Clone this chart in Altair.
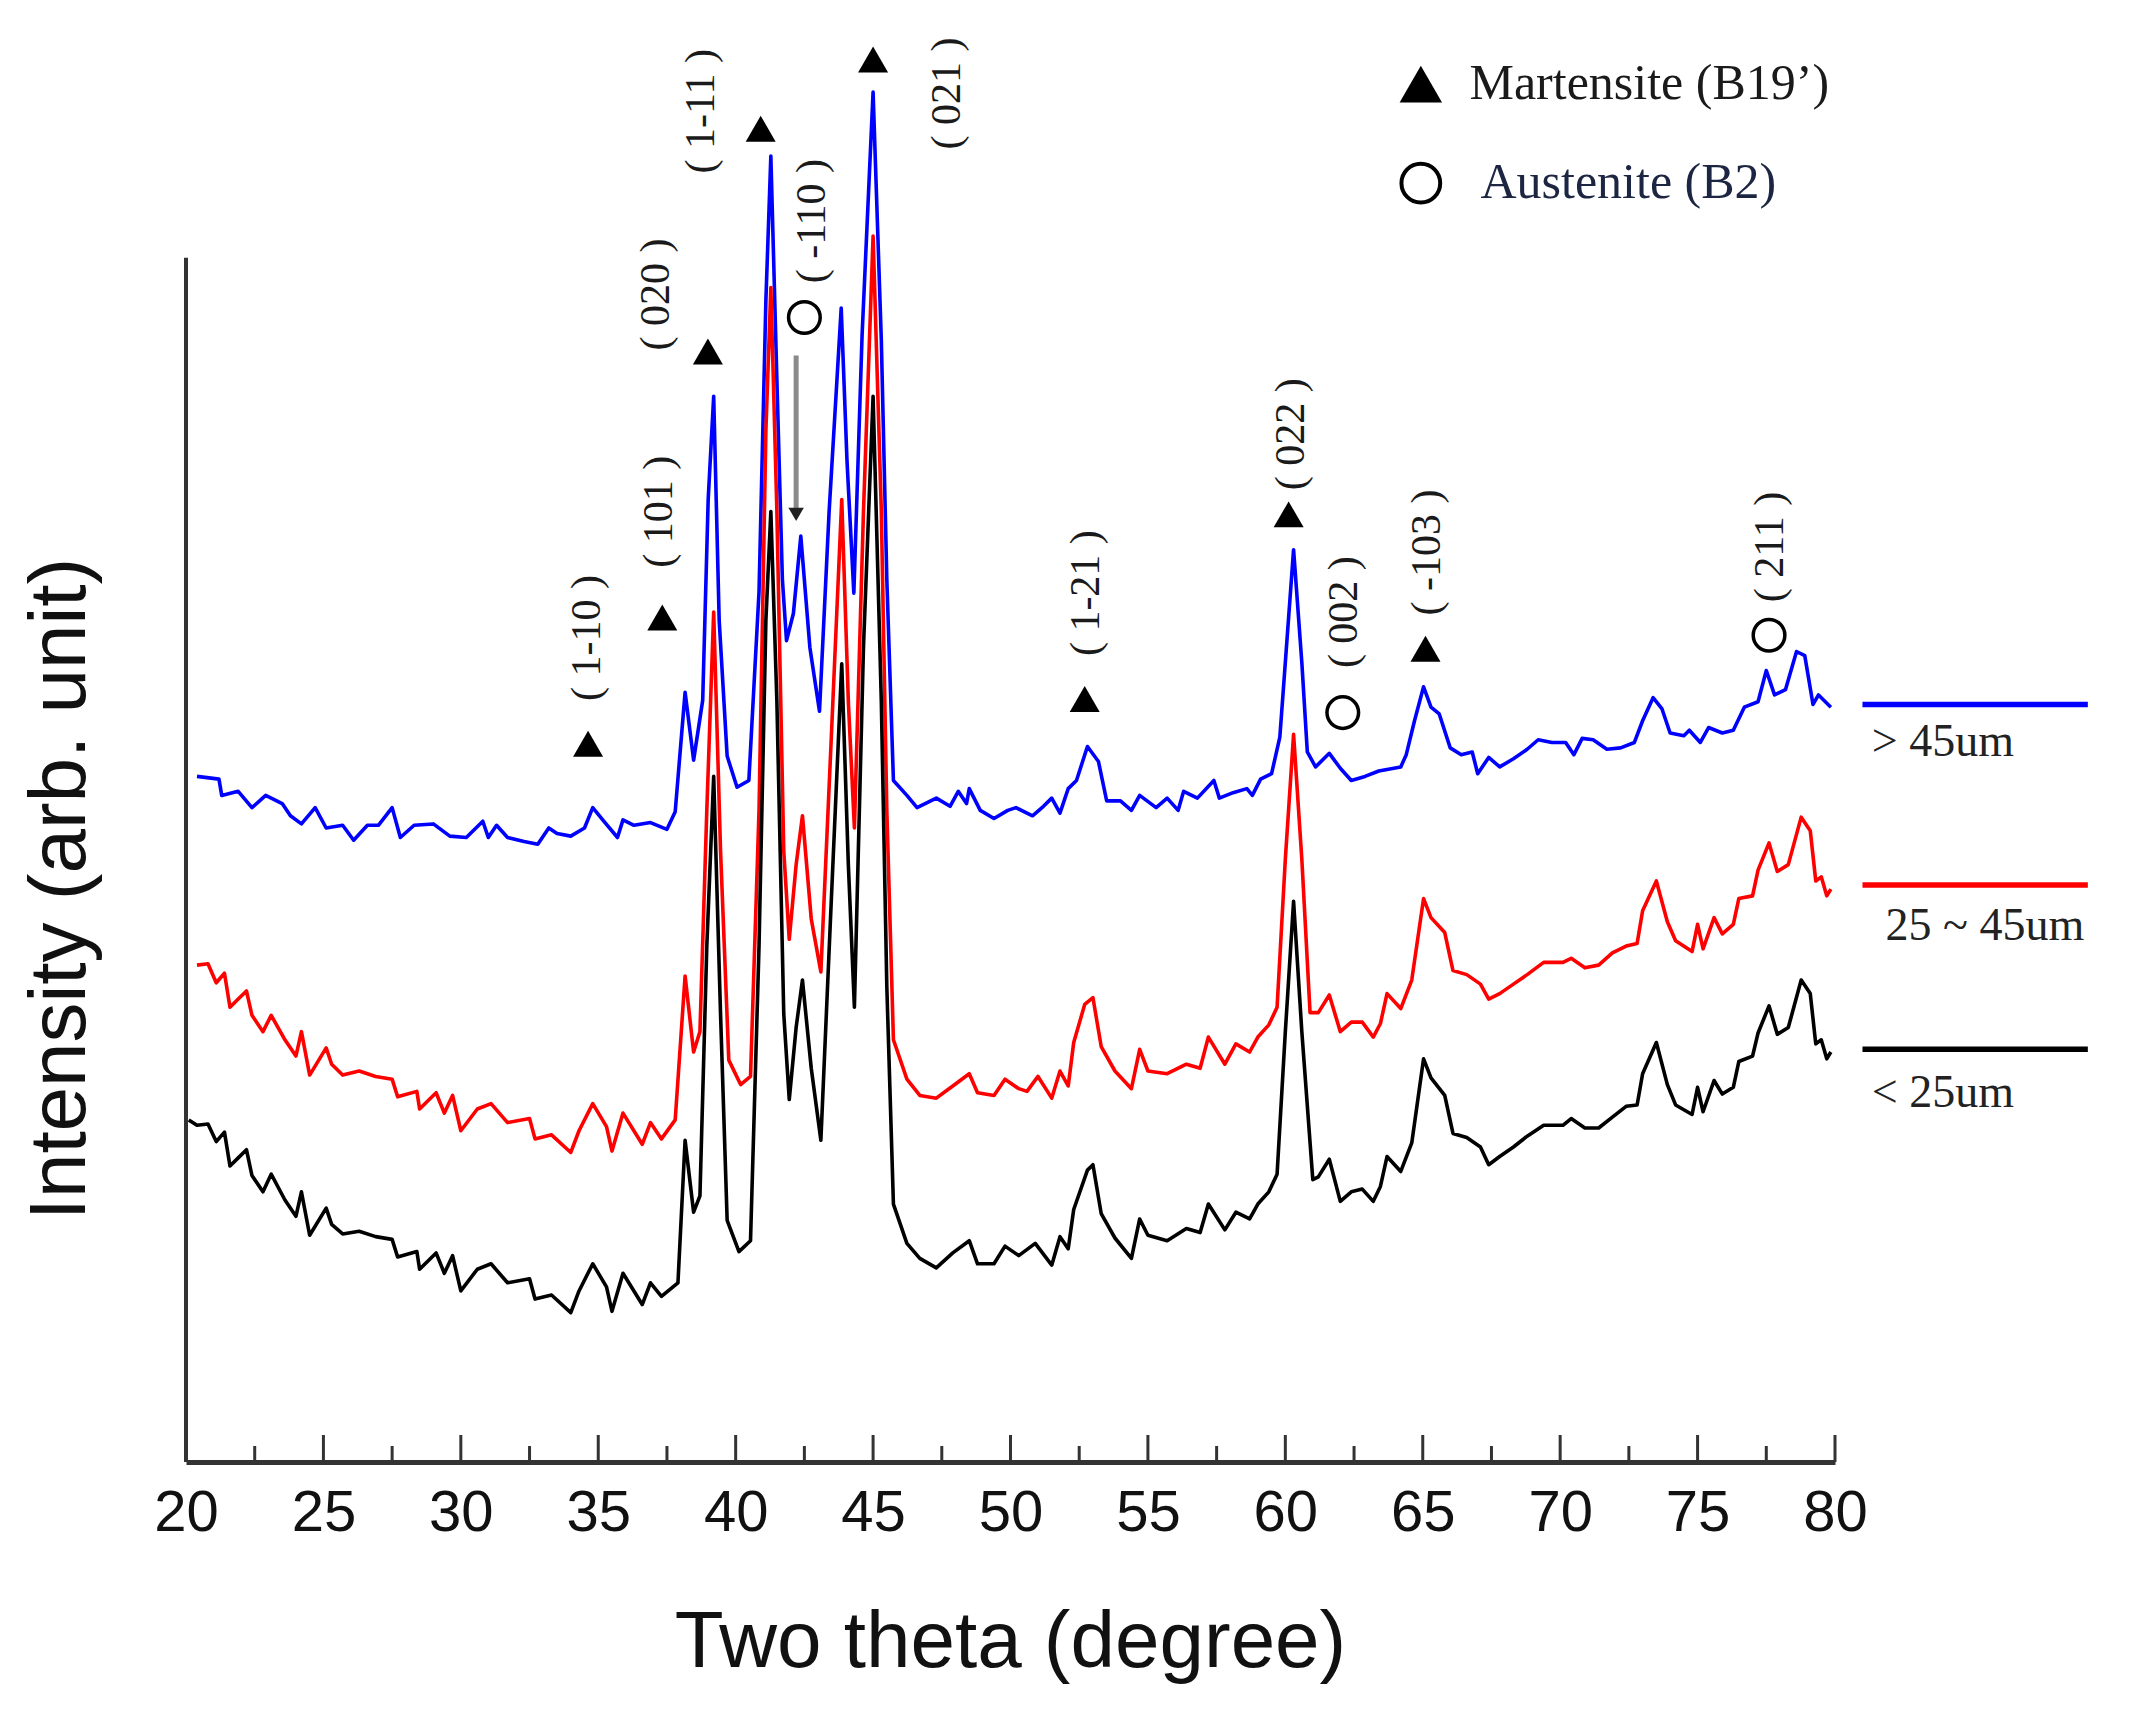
import altair as alt
import pandas as pd

# ---------------- data ----------------
# blue trace  (> 45um)
blue_x = [20.4, 21.2, 21.3, 21.9, 22.4, 22.9, 23.5, 23.8, 24.2, 24.7, 25.1, 25.7, 26.1, 26.6, 27.0, 27.5, 27.8, 28.3,
          29.0, 29.6, 30.2, 30.8, 31.0, 31.3, 31.7, 32.3, 32.8, 33.2, 33.5, 34.0, 34.5, 34.8, 35.2, 35.7, 35.9, 36.3,
          36.9, 37.5, 37.8, 38.16, 38.47, 38.8, 39.0, 39.2, 39.4, 39.69, 40.05, 40.48, 40.85, 41.1, 41.28, 41.5, 41.7,
          41.85, 42.1, 42.37, 42.7, 43.05, 43.4, 43.84, 44.05, 44.3, 44.6, 45.0, 45.3, 45.5, 45.74, 46.23, 46.6, 47.3,
          47.8, 48.1, 48.4, 48.5, 48.9, 49.4, 49.9, 50.2, 50.8, 51.2, 51.5, 51.8, 52.1, 52.4, 52.8, 53.2, 53.5, 54.0,
          54.4, 54.7, 55.3, 55.7, 56.1, 56.3, 56.8, 57.4, 57.6, 58.1, 58.6, 58.8, 59.1, 59.5, 59.8, 60.0, 60.3, 60.6,
          60.8, 61.1, 61.6, 62.0, 62.4, 62.9, 63.4, 64.2, 64.4, 64.7, 65.03, 65.3, 65.6, 66.0, 66.4, 66.8, 67.0, 67.4,
          67.8, 68.3, 68.8, 69.2, 69.7, 70.2, 70.5, 70.8, 71.2, 71.7, 72.2, 72.7, 73.0, 73.38, 73.7, 74.0, 74.5, 74.7,
          75.1, 75.4, 75.9, 76.3, 76.7, 77.2, 77.5, 77.8, 78.2, 78.6, 78.9, 79.2, 79.4, 79.85]
blue_y = [505, 503, 491, 494, 482, 491, 485, 476, 470, 482, 467, 469, 458, 469, 469, 482, 460, 469,
          470, 461, 460, 472, 460, 469, 460, 457, 455, 467, 463, 461, 467, 482, 472, 460, 473, 469,
          471, 466, 479, 567, 517, 561, 709, 785, 620, 520, 497, 502, 641, 856, 962, 797, 650,
          605, 625, 682, 600, 553, 700, 850, 738, 640, 830, 1009, 826, 650, 502, 491, 482, 489,
          483, 494, 485, 496, 480, 474, 480, 482, 476, 483, 489, 478, 496, 502, 527, 516, 487, 487,
          480, 491, 482, 489, 480, 494, 489, 502, 489, 493, 496, 491, 503, 507, 534, 589, 672, 589,
          523, 512, 522, 511, 502, 505, 509, 512, 521, 546, 571, 556, 551, 526, 521, 523, 507, 519,
          512, 518, 525, 532, 530, 530, 521, 533, 532, 525, 526, 530, 546, 563, 555, 537, 535, 539,
          530, 541, 537, 539, 556, 560, 583, 565, 569, 597, 594, 558, 565, 556]

# red trace  (25 ~ 45um)
red_x = [20.4, 20.8, 21.1, 21.4, 21.6, 21.9, 22.2, 22.4, 22.8, 23.1, 23.6, 24.0, 24.2, 24.5, 25.1, 25.3, 25.7, 26.3,
         26.9, 27.5, 27.7, 28.4, 28.5, 29.1, 29.4, 29.7, 30.0, 30.6, 31.1, 31.7, 32.5, 32.7, 33.3, 34.0, 34.3, 34.8,
         35.3, 35.5, 35.9, 36.6, 36.9, 37.3, 37.8, 38.16, 38.47, 38.7, 38.95, 39.2, 39.45, 39.75, 40.18, 40.54, 40.85,
         41.1, 41.28, 41.5, 41.75, 41.95, 42.2, 42.43, 42.75, 43.1, 43.45, 43.86, 44.1, 44.32, 44.65, 45.0, 45.3, 45.5,
         45.74, 46.23, 46.7, 47.3, 47.9, 48.5, 48.8, 49.4, 49.8, 50.3, 50.6, 51.0, 51.5, 51.8, 52.1, 52.3, 52.7, 53.0,
         53.3, 53.8, 54.4, 54.7, 55.0, 55.7, 56.4, 56.9, 57.2, 57.8, 58.2, 58.7, 59.0, 59.4, 59.7, 60.0, 60.3, 60.6,
         60.9, 61.2, 61.6, 62.0, 62.4, 62.8, 63.2, 63.46, 63.7, 64.2, 64.6, 65.03, 65.3, 65.8, 66.1, 66.6, 67.1, 67.4,
         67.8, 68.3, 68.8, 69.4, 70.1, 70.4, 70.9, 71.4, 71.9, 72.4, 72.8, 73.0, 73.5, 73.9, 74.2, 74.8, 75.0, 75.2,
         75.6, 75.9, 76.3, 76.5, 77.0, 77.2, 77.6, 77.9, 78.3, 78.77, 79.1, 79.3, 79.5, 79.7, 79.85]
red_y = [366, 367, 353, 360, 335, 341, 347, 329, 317, 329, 311, 299, 317, 285, 305, 293, 285, 288,
         284, 282, 269, 273, 260, 272, 257, 270, 244, 260, 264, 250, 253, 238, 241, 228, 244, 264,
         247, 229, 257, 234, 250, 238, 252, 358, 302, 317, 480, 626, 450, 296, 278, 284, 480,
         760, 865, 700, 450, 385, 440, 476, 400, 361, 520, 709, 560, 467, 700, 903, 700, 480,
         311, 282, 270, 268, 277, 286, 272, 270, 282, 275, 273, 284, 268, 288, 277, 309, 337, 342,
         306, 288, 275, 304, 288, 286, 293, 290, 313, 293, 308, 302, 313, 322, 335, 444, 536, 444,
         331, 331, 344, 317, 324, 324, 313, 323, 345, 334, 355, 415, 401, 390, 362, 359, 352, 341,
         345, 352, 359, 368, 368, 371, 364, 366, 375, 380, 382, 406, 428, 398, 384, 376, 396, 378,
         401, 389, 396, 415, 417, 436, 456, 435, 440, 475, 465, 428, 431, 417, 422]

# black trace  (< 25um)
black_x = [20.1, 20.4, 20.8, 21.1, 21.4, 21.6, 21.9, 22.2, 22.4, 22.8, 23.1, 23.6, 24.0, 24.2, 24.5, 25.1, 25.3, 25.7,
           26.3, 26.9, 27.5, 27.7, 28.4, 28.5, 29.1, 29.4, 29.7, 30.0, 30.6, 31.1, 31.7, 32.5, 32.7, 33.3, 34.0, 34.3,
           34.8, 35.3, 35.5, 35.9, 36.6, 36.9, 37.3, 37.9, 38.16, 38.47, 38.7, 38.95, 39.2, 39.45, 39.69, 40.12, 40.54,
           40.85, 41.1, 41.28, 41.5, 41.75, 41.95, 42.2, 42.43, 42.75, 43.1, 43.45, 43.86, 44.1, 44.32, 44.65, 45.0,
           45.3, 45.5, 45.74, 46.23, 46.7, 47.3, 47.9, 48.5, 48.8, 49.4, 49.8, 50.3, 50.9, 51.5, 51.8, 52.1, 52.3, 52.8,
           53.0, 53.3, 53.8, 54.4, 54.7, 55.0, 55.7, 56.4, 56.9, 57.2, 57.8, 58.2, 58.7, 59.0, 59.4, 59.7, 60.0, 60.3,
           60.6, 61.0, 61.2, 61.6, 62.0, 62.4, 62.8, 63.2, 63.46, 63.7, 64.2, 64.6, 65.03, 65.3, 65.8, 66.1, 66.6, 67.1,
           67.4, 67.8, 68.3, 68.8, 69.4, 70.1, 70.4, 70.9, 71.4, 71.9, 72.4, 72.8, 73.0, 73.5, 73.9, 74.2, 74.8, 75.0,
           75.2, 75.6, 75.9, 76.3, 76.5, 77.0, 77.2, 77.6, 77.9, 78.3, 78.77, 79.1, 79.3, 79.5, 79.7, 79.85]
black_y = [252, 248, 249, 236, 243, 218, 224, 230, 211, 199, 212, 193, 181, 199, 167, 187, 175, 168,
           170, 166, 164, 151, 155, 142, 154, 139, 152, 126, 142, 146, 132, 135, 120, 123, 110, 126,
           146, 129, 111, 139, 116, 132, 122, 132, 237, 184, 196, 380, 505, 330, 178, 155, 163,
           380, 620, 700, 560, 330, 267, 320, 355, 290, 237, 400, 588, 440, 335, 600, 785,
           560, 350, 190, 161, 150, 143, 154, 163, 146, 146, 159, 152, 161, 145, 166, 157, 186, 215,
           219, 183, 165, 150, 179, 167, 163, 172, 169, 190, 171, 184, 179, 190, 199, 212, 317, 413,
           317, 208, 210, 223, 192, 199, 201, 192, 203, 225, 214, 235, 297, 283, 270, 242, 239, 232,
           219, 225, 232, 240, 248, 248, 253, 246, 246, 254, 262, 263, 286, 309, 278, 263, 256, 276,
           258, 281, 271, 276, 295, 299, 316, 336, 315, 320, 355, 345, 308, 311, 297, 302]

series_names = ["> 45um", "25 ~ 45um", "< 25um"]
series_colors = ["#0000ff", "#ff0000", "#000000"]

major_ticks = [20, 25, 30, 35, 40, 45, 50, 55, 60, 65, 70, 75, 80]
minor_ticks = [22.5, 27.5, 32.5, 37.5, 42.5, 47.5, 52.5, 57.5, 62.5, 67.5, 72.5, 77.5]

# peak markers
mart_x = [34.63, 37.33, 38.99, 40.91, 45.0, 52.7, 60.12, 65.1]
mart_y = [529, 622, 818, 982, 1033, 562, 698, 599]
aust_x = [42.5, 62.09, 77.6]
aust_y = [843, 552, 609]

# Miller index labels
hkl_text = ["( 1-10 )", "( 101 )", "( 020 )", "( 1-11 )", "( -110 )", "( 021 )",
            "( 1-21 )", "( 022 )", "( 002 )", "( -103 )", "( 211 )"]
hkl_x = [34.58, 37.2, 37.1, 38.75, 42.76, 47.7, 52.74, 60.19, 62.14, 65.17, 77.65]
hkl_y = [607, 700, 860, 995, 914, 1008, 640, 757, 626, 670, 674]

# ---------------- chart ----------------
W, H = 1649, 1435
xs = alt.Scale(domain=[20, 80], nice=False, zero=False)
ys = alt.Scale(domain=[0, 1057], nice=False, zero=False)

x_axis = alt.Axis(values=major_ticks, format="d", title=None, grid=False, ticks=False,
                  domain=True, domainColor="#333333", domainWidth=5,
                  labelFont="Liberation Sans", labelFontSize=58, labelColor="#111111",
                  labelPadding=22, labelFlush=False)


def X(field="x"):
    return alt.X(f"{field}:Q", scale=xs, axis=x_axis)


def Y(field="y"):
    return alt.Y(f"{field}:Q", scale=ys, axis=None)


def trace(xv, yv, color):
    df = pd.DataFrame({"x": xv, "y": yv})
    return alt.Chart(df).mark_line(color=color, strokeWidth=3.6, interpolate="linear",
                                   strokeJoin="round").encode(x=X(), y=Y(), order="x:Q")


layers = [
    trace(blue_x, blue_y, series_colors[0]),
    trace(red_x, red_y, series_colors[1]),
    trace(black_x, black_y, series_colors[2]),
]

# axis line on the left (shorter than plot)
yaxis_line = alt.Chart(pd.DataFrame({"x": [20]})).mark_rule(color="#333333", strokeWidth=4).encode(
    x=X(), y=alt.value(H), y2=alt.value(H - 887 * H / 1057))

major_rules = alt.Chart(pd.DataFrame({"x": major_ticks})).mark_rule(color="#333333", strokeWidth=3).encode(
    x=X(), y=alt.value(H), y2=alt.value(H - 27))
minor_rules = alt.Chart(pd.DataFrame({"x": minor_ticks})).mark_rule(color="#333333", strokeWidth=3).encode(
    x=X(), y=alt.value(H), y2=alt.value(H - 16))

tri = alt.Chart(pd.DataFrame({"x": mart_x, "y": mart_y})).mark_point(
    shape="triangle-up", filled=True, color="#000000", size=900, opacity=1).encode(x=X(), y=Y())
circ = alt.Chart(pd.DataFrame({"x": aust_x, "y": aust_y})).mark_point(
    shape="circle", filled=False, color="#000000", size=1000, strokeWidth=3.5, opacity=1).encode(x=X(), y=Y())

# arrow for (-110)
arrow = alt.Chart(pd.DataFrame({"x": [42.2], "y": [815], "y2": [700]})).mark_rule(
    color="#8a8a8a", strokeWidth=5).encode(x=X(), y=Y(), y2="y2:Q")
arrow_head = alt.Chart(pd.DataFrame({"x": [42.2], "y": [698]})).mark_point(
    shape="triangle-down", filled=True, color="#222222", size=240, opacity=1).encode(x=X(), y=Y())

hkl = alt.Chart(pd.DataFrame({"x": hkl_x, "y": hkl_y, "t": hkl_text})).mark_text(
    angle=270, align="center", baseline="middle", font="Liberation Serif",
    fontSize=42, color="#1a1a1a").encode(x=X(), y=Y(), text="t:N")

# phase legend (top)
leg_sym_tri = alt.Chart(pd.DataFrame({"x": [64.93], "y": [1015]})).mark_point(
    shape="triangle-up", filled=True, color="#000000", size=1800, opacity=1).encode(x=X(), y=Y())
leg_sym_circ = alt.Chart(pd.DataFrame({"x": [64.93], "y": [942]})).mark_point(
    shape="circle", filled=False, color="#000000", size=1500, strokeWidth=4, opacity=1).encode(x=X(), y=Y())
leg_t1 = alt.Chart(pd.DataFrame({"x": [66.7], "y": [1015], "t": ["Martensite (B19’)"]})).mark_text(
    align="left", baseline="middle", font="Liberation Serif", fontSize=50, color="#1a1a1a").encode(
    x=X(), y=Y(), text="t:N")
leg_t2 = alt.Chart(pd.DataFrame({"x": [67.1], "y": [942], "t": ["Austenite (B2)"]})).mark_text(
    align="left", baseline="middle", font="Liberation Serif", fontSize=50, color="#1c2541").encode(
    x=X(), y=Y(), text="t:N")

# sample legend (right)
samp_lines = []
for name, col, ly, tx, ty in zip(series_names, series_colors, [558, 425, 304],
                                 [81.34, 81.84, 81.34], [530, 395, 272]):
    samp_lines.append(
        alt.Chart(pd.DataFrame({"x": [81.0], "x2": [89.2], "y": [ly]})).mark_rule(
            color=col, strokeWidth=5.5).encode(x=X(), x2="x2:Q", y=Y()))
    samp_lines.append(
        alt.Chart(pd.DataFrame({"x": [tx], "y": [ty], "t": [name]})).mark_text(
            align="left", baseline="middle", font="Liberation Serif", fontSize=46,
            color="#222222").encode(x=X(), y=Y(), text="t:N"))

# axis titles as text
xtitle = alt.Chart(pd.DataFrame({"x": [50], "y": [-133], "t": ["Two theta (degree)"]})).mark_text(
    align="center", baseline="middle", font="Liberation Sans", fontSize=80, color="#111111").encode(
    x=X(), y=Y(), text="t:N")
ytitle = alt.Chart(pd.DataFrame({"x": [15.45], "y": [422], "t": ["Intensity (arb. unit)"]})).mark_text(
    align="center", baseline="middle", angle=270, font="Liberation Sans", fontSize=80,
    color="#111111").encode(x=X(), y=Y(), text="t:N")

chart = alt.layer(
    *layers, yaxis_line, major_rules, minor_rules, tri, circ, arrow, arrow_head, hkl,
    leg_sym_tri, leg_sym_circ, leg_t1, leg_t2, *samp_lines, xtitle, ytitle
).properties(
    width=W, height=H,
    background="white",
    autosize=alt.AutoSizeParams(type="none"),
    padding={"left": 178, "top": 19, "right": 270, "bottom": 230},
).configure_view(stroke=None, strokeWidth=0)

chart.save("out.html", embed_options={"renderer": "svg", "actions": False})
